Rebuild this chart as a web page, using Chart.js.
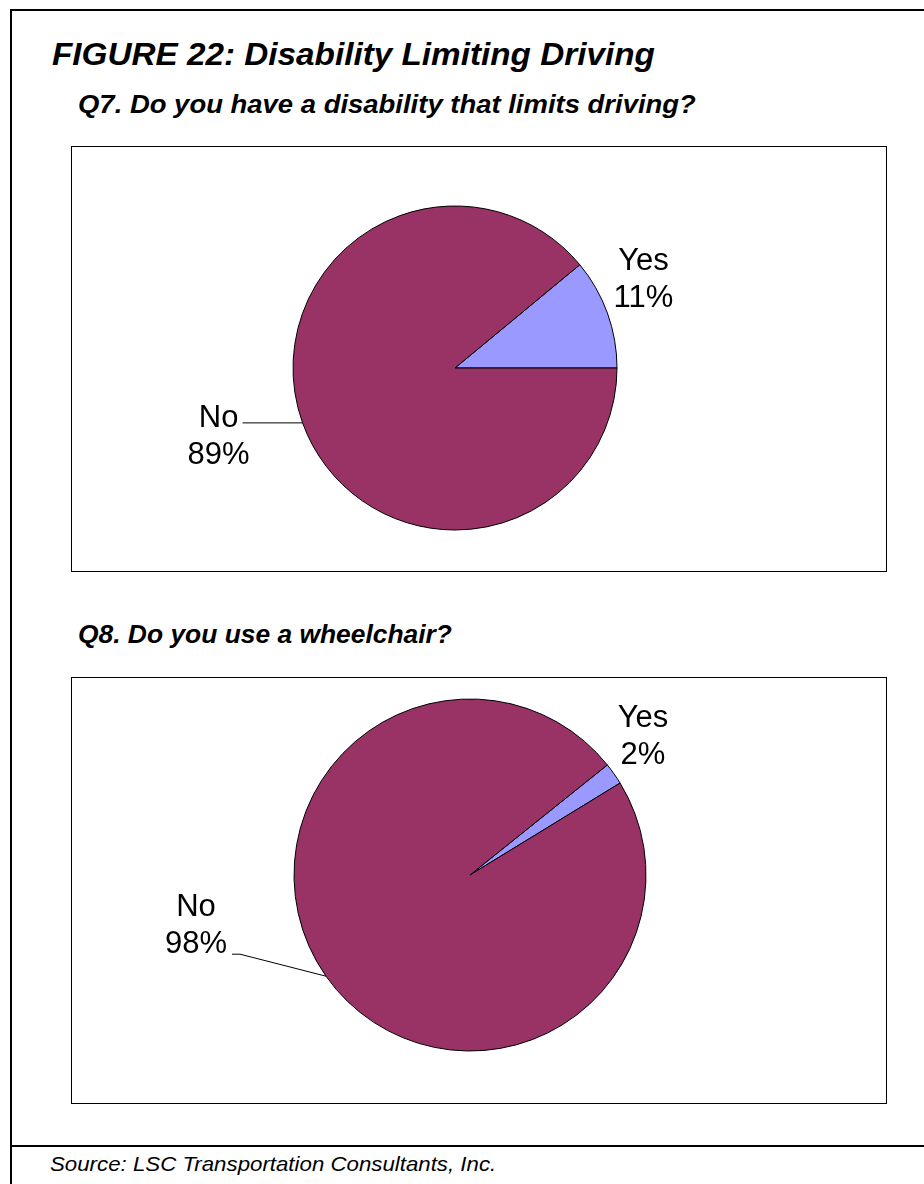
<!DOCTYPE html>
<html>
<head>
<meta charset="utf-8">
<script src="https://cdn.jsdelivr.net/npm/chart.js@4.4.1/dist/chart.umd.min.js"></script>
<style>
  body { margin:0; width:924px; height:1184px; position:relative; background:#fff; overflow:hidden;
         font-family:"Liberation Sans", Arial, sans-serif; color:#000; }
  .rule { position:absolute; background:#000; }
  .txt { position:absolute; white-space:nowrap; transform-origin:0 0; margin:0; }
  h1.txt { font:italic bold 32px/32px "Liberation Sans", Arial, sans-serif; left:52px; top:38px; transform:scaleX(1.04); }
  h2.txt { font:italic bold 26px/26px "Liberation Sans", Arial, sans-serif; left:78px; }
  .src { font:italic 21px/21px "Liberation Sans", Arial, sans-serif; left:50px; top:1153px; transform:scaleX(1.06); }
  .box { position:absolute; left:71px; width:814px; border:1px solid #000; }
  .box canvas { position:absolute; left:0; top:0; }
</style>
</head>
<body>
<div class="rule" style="left:10px;top:9px;width:914px;height:2px"></div>
<div class="rule" style="left:10px;top:9px;width:2px;height:1175px"></div>
<div class="rule" style="left:10px;top:1145px;width:914px;height:2px"></div>

<h1 class="txt">FIGURE 22: Disability Limiting Driving</h1>
<h2 class="txt" style="top:91px;transform:scaleX(1.056)">Q7. Do you have a disability that limits driving?</h2>
<div class="box" style="top:146px;height:424px"><canvas id="q7" width="814" height="424"></canvas></div>
<h2 class="txt" style="top:621px;transform:scaleX(1.015)">Q8. Do you use a wheelchair?</h2>
<div class="box" style="top:677px;height:425px"><canvas id="q8" width="814" height="425"></canvas></div>
<div class="txt src">Source: LSC Transportation Consultants, Inc.</div>

<script>
const answers = ["Yes", "No"];
const q7Percent = [11, 89];
const q8Percent = [2, 98];
const sliceColors = ["#9999FF", "#993366"];

// writes "label / value%" beside each slice, with an optional leader line
// drawn from the middle of the slice's outer edge
const sliceLabels = {
    id: "sliceLabels",
    afterDatasetsDraw(chart, args, opts) {
        const ctx = chart.ctx;
        const arcs = chart.getDatasetMeta(0).data;
        const values = chart.data.datasets[0].data;
        ctx.save();
        ctx.font = '31px "Liberation Sans", Arial, sans-serif';
        ctx.fillStyle = "#000";
        ctx.strokeStyle = "#000";
        ctx.lineWidth = 1;
        ctx.textAlign = "center";
        ctx.textBaseline = "alphabetic";
        arcs.forEach((arc, i) => {
            const p = opts.place[i];
            const mid = (arc.startAngle + arc.endAngle) / 2;
            const ex = arc.x + Math.cos(mid) * arc.outerRadius;
            const ey = arc.y + Math.sin(mid) * arc.outerRadius;
            ctx.fillText(chart.data.labels[i], ex + p.dx, ey + p.dy);
            ctx.fillText(values[i] + "%", ex + p.dx, ey + p.dy + 37);
            if (p.leader) {
                ctx.beginPath();
                ctx.moveTo(ex, ey);
                p.leader.forEach(pt => ctx.lineTo(ex + pt[0], ey + pt[1]));
                ctx.stroke();
            }
        });
        ctx.restore();
    }
};

function makePie(id, values, rotation, radius, padding, place) {
    return new Chart(document.getElementById(id), {
        type: "pie",
        data: {
            labels: answers,
            datasets: [{
                data: values,
                backgroundColor: sliceColors,
                borderColor: "#000",
                borderWidth: 1
            }]
        },
        options: {
            responsive: false,
            animation: false,
            rotation: rotation,
            radius: radius,
            layout: { padding: padding },
            plugins: {
                legend: { display: false },
                tooltip: { enabled: false },
                sliceLabels: { place: place }
            }
        },
        plugins: [sliceLabels]
    });
}

makePie("q7", q7Percent, 50.4, 162,
    { left: 0, right: 48, top: 18, bottom: 0 },
    [
        { dx: 36, dy: -43 },
        { dx: -84, dy: 4, leader: [[-60, 0]] }
    ]);

makePie("q8", q8Percent, 51.3, 176,
    { left: 0, right: 18, top: 0, bottom: 31 },
    [
        { dx: 29, dy: -47 },
        { dx: -130, dy: -60, leader: [[-86, -22], [-94, -22]] }
    ]);
</script>
</body>
</html>
